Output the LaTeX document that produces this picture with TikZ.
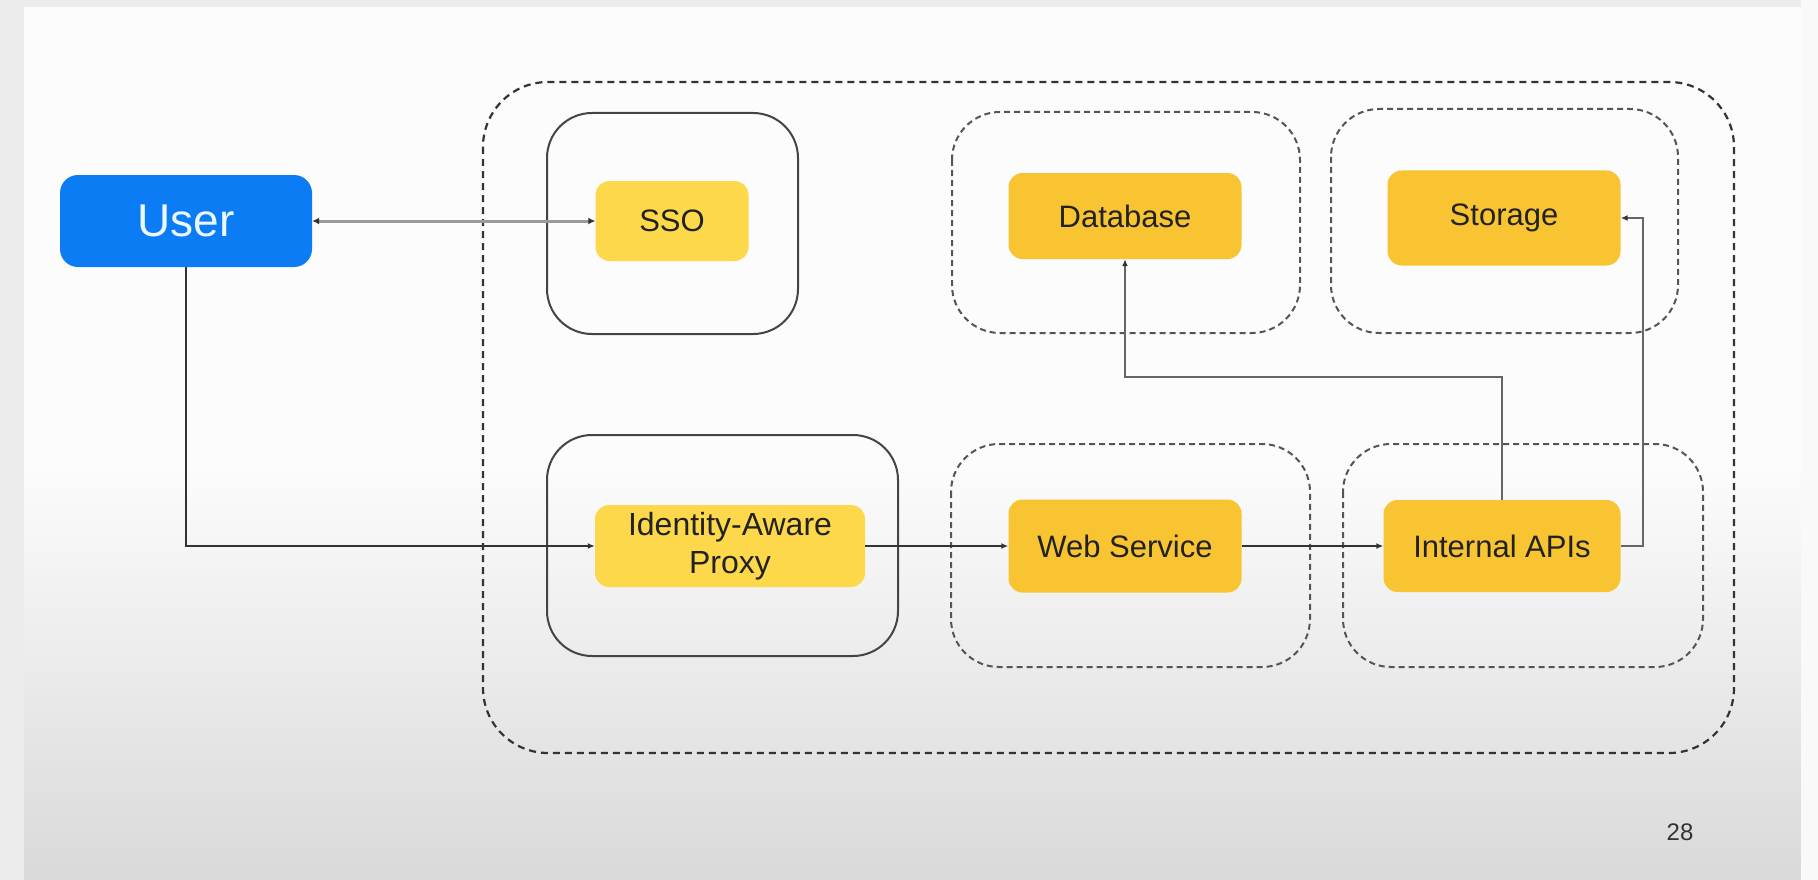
\documentclass[tikz,border=0pt]{standalone}
\usepackage{fontspec}
\setmainfont{Liberation Sans}
\usetikzlibrary{arrows.meta}
\definecolor{userblue}{HTML}{0B7CF4}
\definecolor{ylight}{HTML}{FCD84A}
\definecolor{ydeep}{HTML}{F9C432}
\definecolor{ink}{HTML}{222222}
\definecolor{linedark}{HTML}{333333}
\definecolor{linegray}{HTML}{9A9A9A}
\definecolor{boxline}{HTML}{444444}
\definecolor{dashgray}{HTML}{555555}
\definecolor{slidebottom}{HTML}{D9D9D9}
\definecolor{frame}{HTML}{ECECEC}
\tikzset{
  ybox/.style={fill=#1, rounded corners=14pt, inner sep=0pt, align=center,
    text=ink, font=\fontsize{31}{38}\selectfont},
  userbox/.style={fill=userblue, rounded corners=18pt, inner sep=0pt,
    text=white!92!cyan, font=\fontsize{46}{52}\selectfont},
  solidgroup/.style={draw=boxline, line width=2pt, rounded corners=45pt},
  dashgroup/.style={draw=dashgray, line width=2pt, rounded corners=48pt,
    dash pattern=on 6pt off 4pt},
  outergroup/.style={draw=linedark, line width=2.2pt, rounded corners=65pt,
    dash pattern=on 7pt off 5pt},
  link/.style={draw=linedark, line width=2pt, -{Latex[length=7pt,width=6pt]}},
  glink/.style={draw=linegray, line width=3pt,
    {Latex[length=7pt,width=7pt,color=linedark]}-{Latex[length=7pt,width=7pt,color=linedark]}},
  vlink/.style={draw=dashgray!90, line width=2pt, -{Latex[length=7pt,width=6pt,color=linedark]}},
}
\begin{document}
\begin{tikzpicture}[x=1pt,y=-1pt]
\useasboundingbox (0,0) rectangle (1818,880);
% background slide
\fill[frame] (0,0) rectangle (1818,880);
\fill[white!98!gray] (24,7) rectangle (1801,460);
\shade[top color=white!98!gray, bottom color=slidebottom] (24,459) rectangle (1801,880);
\fill[white!95!gray] (1801,0) rectangle (1818,880);

% group containers
\draw[outergroup] (483,82) rectangle (1734,753);
\draw[solidgroup] (547,113) rectangle (798,334);
\draw[solidgroup] (547,435) rectangle (898,656);
\draw[dashgroup] (952,112) rectangle (1300,333);
\draw[dashgroup] (1331,109) rectangle (1678,333);
\draw[dashgroup] (951,444) rectangle (1310,667);
\draw[dashgroup] (1343,444) rectangle (1703,667);

% nodes
\node[userbox, minimum width=252pt, minimum height=92pt] (user) at (186,221) {User};
\node[ybox=ylight, minimum width=153pt, minimum height=80pt] (sso) at (672,221) {SSO};
\node[ybox=ydeep, minimum width=233pt, minimum height=86pt] (db) at (1125,216) {Database};
\node[ybox=ydeep, minimum width=233pt, minimum height=95pt] (st) at (1504,218) {Storage};
\node[ybox=ylight, minimum width=270pt, minimum height=82pt, font=\fontsize{32}{38}\selectfont] (iap) at (730,546) {Identity-Aware\\Proxy};
\node[ybox=ydeep, minimum width=233pt, minimum height=93pt] (ws) at (1125,546) {Web Service};
\node[ybox=ydeep, minimum width=237pt, minimum height=92pt] (ia) at (1502,546) {Internal APIs};

% page number
\node[text=linedark, font=\fontsize{24}{28}\selectfont] (pg) at (1680,832) {28};

% connectors
\coordinate (dbk) at (0,377);
\draw[glink] (user.east) -- (sso.west);
\draw[link] (user.south) |- (iap.west);
\draw[link] (iap.east) -- (ws.west);
\draw[link] (ws.east) -- (ia.west);
\draw[vlink] (ia.north) -- (ia.north |- dbk) -| (db.south);
\draw[vlink] (ia.east) -- ++(22,0) |- (st.east);
\end{tikzpicture}
\end{document}
